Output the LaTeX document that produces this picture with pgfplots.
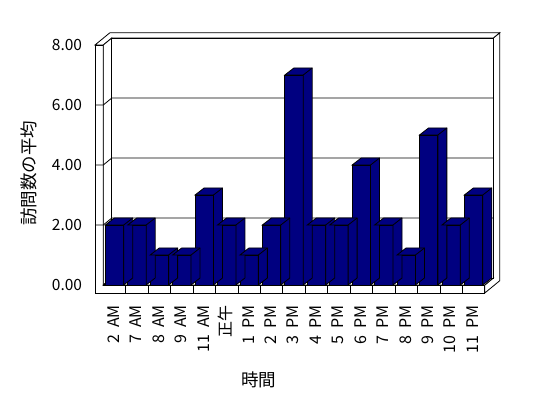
\documentclass[border=0pt]{standalone}
\usepackage{pgfplots}
\pgfplotsset{compat=1.18}
\usepackage{pgfplotstable}
\usepackage{fontspec}
\setmainfont{Noto Sans CJK JP}
\definecolor{navy}{RGB}{0,0,128}
\newcommand{\gap}{\hspace{7pt}}
\pgfdeclareplotmark{empty}{}
\pgfplotstableread{
i v
0 2
1 2
2 1
3 1
4 3
5 2
6 1
7 2
8 7
9 2
10 2
11 4
12 2
13 1
14 5
15 2
16 3
}\visits
\begin{document}
\begin{tikzpicture}
\useasboundingbox (0pt,0pt) rectangle (548pt,398pt);
\begin{scope}[x=1pt,y=1pt,line width=0.8pt,draw=black,line join=miter]
\filldraw[fill=white] (95,105) -- (484.8,105) -- (484.8,113) -- (103.3,113) -- (103.3,353) -- (95,353) -- cycle;
\filldraw[fill=white] (484.8,105) -- (484.8,113) -- (493.3,120) -- (493.3,360) -- (499.7,365.25) -- (499.7,117.25) -- cycle;
\filldraw[fill=white] (95,353) -- (103.3,353) -- (111.8,360) -- (493.3,360) -- (499.7,365.25) -- (109.9,365.25) -- cycle;
\filldraw[fill=white] (103.3,113) -- (103.3,353) -- (111.8,360) -- (111.8,120) -- cycle;
\filldraw[fill=white] (103.3,113) -- (484.8,113) -- (493.3,120) -- (111.8,120) -- cycle;
\filldraw[fill=white] (111.8,120) rectangle (493.3,360);
\foreach \v in {2,4,6} {
  \draw (95,113+30*\v) -- (103.3,113+30*\v) -- (111.8,120+30*\v) -- (493.3,120+30*\v);
}
\foreach \k in {1,...,16} {\draw (103.3+22.44*\k,105) -- (103.3+22.44*\k,113);}
\end{scope}
\begin{axis}[
  at={(103.3pt,113pt)}, anchor=south west,
  x=22.44pt, y=30pt,
  xmin=-0.5, xmax=16.5, ymin=0, ymax=8,
  clip=false,
  axis x line*=bottom, axis y line*=left,
  axis line style={draw=none},
  major tick length=0pt,
  xtick={0,...,16},
  xticklabels={2\gap AM,7\gap AM,8\gap AM,9\gap AM,11\gap AM,正午,1\gap PM,2\gap PM,3\gap PM,4\gap PM,5\gap PM,6\gap PM,7\gap PM,8\gap PM,9\gap PM,10\gap PM,11\gap PM},
  ytick={0,2,4,6,8},
  yticklabels={0.00,2.00,4.00,6.00,8.00},
  yticklabel style={font=\fontsize{15.5}{18}\selectfont, anchor=east, inner sep=0pt, xshift=-21pt},
  xticklabel style={font=\fontsize{16}{18}\selectfont, yshift=-20pt, xshift=-1pt, rotate=90, anchor=east, inner sep=0pt},
  every axis y label/.style={at={(axis description cs:-0.196,0.465)}, rotate=90, anchor=center, font=\fontsize{17.5}{20}\selectfont},
  every axis x label/.style={at={(axis description cs:0.408,-0.396)}, anchor=center, font=\fontsize{17.5}{20}\selectfont},
  ylabel={訪問数の平均}, xlabel={時間},
]
\addplot[scatter, only marks, mark=empty,
  visualization depends on={rawy \as \barval},
  scatter/@pre marker code/.code={%
    \pgfmathsetlengthmacro\barh{\barval*30pt}%
    \filldraw[fill=navy, draw=black, line width=0.8pt, line join=miter]
      (-9.2pt,0pt) -- (-0.2pt,7pt) -- (18.2pt,7pt) -- (18.2pt,7pt-\barh) -- (9.2pt,-\barh) -- (9.2pt,0pt) -- cycle;
    \draw[black, line width=0.8pt] (9.2pt,0pt) -- (18.2pt,7pt);
  },
  scatter/@post marker code/.code={}] table[x=i,y=v]{\visits};
\addplot[ybar, bar width=18.4pt, fill=navy, draw=black, line width=0.8pt] table[x=i,y=v]{\visits};
\end{axis}
\end{tikzpicture}
\end{document}
